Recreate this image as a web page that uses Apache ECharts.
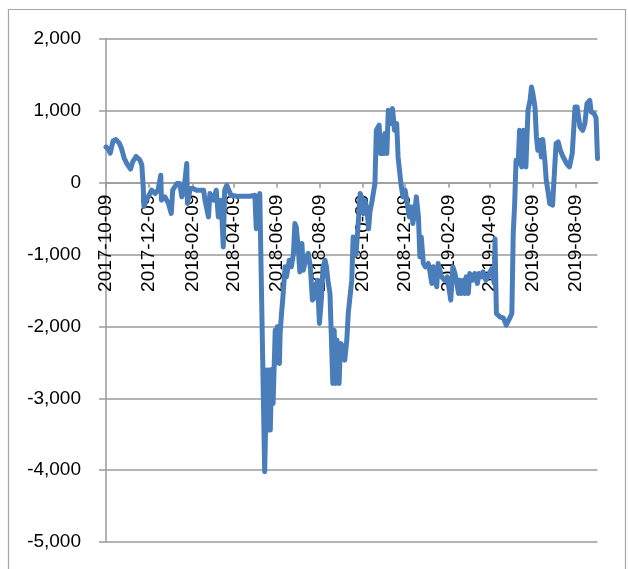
<!DOCTYPE html>
<html>
<head>
<meta charset="utf-8">
<script src="https://cdn.jsdelivr.net/npm/echarts@6/dist/echarts.min.js"></script>
<style>
  html, body { margin: 0; padding: 0; background: #ffffff; }
  #chart { width: 628px; height: 569px; }
</style>
</head>
<body>
<div id="chart"></div>
<script>
// ---- data ----
const dates = [
  '2017-10-09','2017-10-12','2017-10-15','2017-10-19','2017-10-23','2017-10-28','2017-10-31',
  '2017-11-04','2017-11-08','2017-11-13','2017-11-16','2017-11-21','2017-11-26','2017-11-29',
  '2017-12-01','2017-12-02','2017-12-05','2017-12-08','2017-12-13','2017-12-18','2017-12-22',
  '2017-12-26','2017-12-27','2018-01-01','2018-01-06','2018-01-10','2018-01-12','2018-01-18',
  '2018-01-22','2018-01-25','2018-01-28','2018-02-01','2018-02-02','2018-02-06','2018-02-10',
  '2018-02-15','2018-02-25','2018-02-27','2018-03-04','2018-03-06','2018-03-11','2018-03-15',
  '2018-03-18','2018-03-22','2018-03-25','2018-03-27','2018-03-30','2018-04-01','2018-04-05',
  '2018-04-13','2018-05-02','2018-05-09','2018-05-11','2018-05-13','2018-05-16',
  '2018-05-23','2018-05-26','2018-05-28','2018-05-29','2018-05-31','2018-06-02','2018-06-04',
  '2018-06-07','2018-06-09','2018-06-10','2018-06-13','2018-06-14','2018-06-16','2018-06-18',
  '2018-06-21','2018-06-23','2018-06-27','2018-06-30','2018-07-03','2018-07-05','2018-07-07',
  '2018-07-10','2018-07-12','2018-07-15','2018-07-17','2018-07-21','2018-07-24','2018-07-27',
  '2018-07-30','2018-08-02','2018-08-06','2018-08-09','2018-08-12','2018-08-14','2018-08-17',
  '2018-08-19','2018-08-21','2018-08-24','2018-08-28','2018-08-30','2018-09-01','2018-09-03',
  '2018-09-06','2018-09-08','2018-09-12','2018-09-14','2018-09-17','2018-09-19','2018-09-21',
  '2018-09-24','2018-09-26','2018-09-30','2018-10-03','2018-10-06','2018-10-08','2018-10-11',
  '2018-10-13','2018-10-16','2018-10-18','2018-10-20','2018-10-23','2018-10-25','2018-10-27',
  '2018-10-29','2018-11-02','2018-11-04','2018-11-08','2018-11-10','2018-11-13','2018-11-15',
  '2018-11-18','2018-11-21','2018-11-24','2018-11-27','2018-11-29','2018-12-03','2018-12-06',
  '2018-12-09','2018-12-12','2018-12-15','2018-12-18','2018-12-20','2018-12-23','2018-12-25',
  '2018-12-28','2018-12-30','2019-01-01','2019-01-04','2019-01-07','2019-01-11','2019-01-13',
  '2019-01-16','2019-01-18','2019-01-20','2019-01-23','2019-01-25','2019-01-30','2019-02-03',
  '2019-02-07','2019-02-12','2019-02-15','2019-02-18','2019-02-20','2019-02-23','2019-02-25',
  '2019-02-27','2019-03-02','2019-03-04','2019-03-06','2019-03-09','2019-03-11','2019-03-15',
  '2019-03-18','2019-03-22','2019-03-24','2019-03-28','2019-03-30','2019-04-03','2019-04-06',
  '2019-04-11','2019-04-15','2019-04-16','2019-04-18','2019-04-23','2019-04-28','2019-05-02',
  '2019-05-07','2019-05-10','2019-05-12','2019-05-14','2019-05-16','2019-05-19','2019-05-21',
  '2019-05-24','2019-05-27','2019-05-30','2019-06-02','2019-06-05','2019-06-07','2019-06-09',
  '2019-06-12','2019-06-14','2019-06-16','2019-06-19','2019-06-21','2019-06-23','2019-06-26',
  '2019-06-28','2019-07-01','2019-07-03','2019-07-07','2019-07-09','2019-07-12','2019-07-15',
  '2019-07-18','2019-07-22','2019-07-27','2019-07-31','2019-08-04','2019-08-08','2019-08-11',
  '2019-08-15','2019-08-19','2019-08-22','2019-08-25','2019-08-29','2019-08-31','2019-09-04',
  '2019-09-07','2019-09-09'
];
const values = [
  498, 470, 410, 580, 600, 550, 480,
  340, 260, 190, 290, 365, 320, 250,
  -60, -330, -250, -197, -104, -150, -104,
  104, -243, -197, -290, -428, -104, -11,
  -11, -197, -104, 267, -290, -81, -81,
  -104, -104, -243, -476, -150, -243, -104,
  -476, -243, -893, -104, -35, -58, -174,
  -188, -188, -175, -640, -600, -150,
  -4023, -2608, -3440, -2608, -3443, -2600, -3071,
  -2052, -2510, -2005, -2515, -2100, -1820, -1588,
  -1170, -1310, -1078, -1170, -985, -568, -615,
  -939, -1241, -846, -1217, -1032, -985, -1171,
  -1634, -1588, -1356, -1958, -1588, -1171, -1078,
  -1171, -1356, -1541, -2793, -2052, -2793, -2190,
  -2793, -2237, -2284, -2469, -2190, -1820, -1634,
  -1356, -754, -1000, -600, -150, -200, -430,
  -250, -400, -640, -400, -250, -243, -11,
  730, 800, 406, 406, 684, 406, 1008,
  823, 1031, 730, 823, 359, -11, -197,
  -104, -290, -476, -336, -568, -383, -197,
  -476, -1032, -754, -1124, -1171, -1124, -1217,
  -1402, -1171, -1310, -1449, -1124, -1310, -1356,
  -1310, -1634, -1171, -1263, -1356, -1541, -1356,
  -1541, -1356, -1541, -1310, -1541, -1263, -1356,
  -1263, -1402, -1263, -1310, -1241, -1356, -1310,
  -1200, -1400, -780, -1820, -1867, -1885, -1982,
  -1885, -1820, -700, -300, 313, 267, 730,
  220, 730, 220, 1008, 1147, 1333, 1241,
  1050, 637, 452, 591, 359, 600, 313,
  35, -150, -290, -313, -290, 545, 567,
  452, 359, 267, 220, 406, 1054, 1054,
  776, 730, 823, 1101, 1147, 985, 963,
  900, 336
];
const tickLabels = [
  '2017-10-09','2017-12-09','2018-02-09','2018-04-09','2018-06-09','2018-08-09',
  '2018-10-09','2018-12-09','2019-02-09','2019-04-09','2019-06-09','2019-08-09'
];
const axisStart = '2017-10-09';
const axisEnd = '2019-09-09';
const yTicks = { min: -5000, max: 2000, step: 1000 };

// ---- helpers: dates become UTC day stamps on a numeric axis ----
function ts(s) {
  const p = s.split('-').map(Number);
  return Date.UTC(p[0], p[1] - 1, p[2]);
}
function fmtDate(v) {
  const d = new Date(v);
  const mm = String(d.getUTCMonth() + 1).padStart(2, '0');
  const dd = String(d.getUTCDate()).padStart(2, '0');
  return d.getUTCFullYear() + '-' + mm + '-' + dd;
}
const seriesData = dates.map((d, i) => [ts(d), values[i]]);
const tickTs = tickLabels.map(ts);

const W = 628, H = 569;
const gridBox = { left: 106, right: 30.5, top: 39, bottom: 27 };
const gridH = H - gridBox.top - gridBox.bottom;
// the date axis crosses the value axis at 0 (like the original chart)
const zeroOffset = -gridH * (0 - yTicks.min) / (yTicks.max - yTicks.min);

const gray = '#9a9a9a';
const chart = echarts.init(document.getElementById('chart'), null, { renderer: 'canvas' });
chart.setOption({
  animation: false,
  backgroundColor: '#ffffff',
  graphic: [{
    type: 'rect',
    shape: { x: 8.5, y: 9.5, width: 617, height: 600 },
    style: { fill: 'none', stroke: '#a6a6a6', lineWidth: 1.2 },
    silent: true,
    z: -1
  }],
  grid: Object.assign({ containLabel: false, outerBoundsMode: 'none' }, gridBox),
  xAxis: {
    type: 'value',
    min: ts(axisStart),
    max: ts(axisEnd),
    position: 'bottom',
    offset: zeroOffset,
    axisLine: { show: true, onZero: false, lineStyle: { color: gray, width: 1.5 } },
    axisTick: { show: true, customValues: tickTs, length: 5, inside: false,
                lineStyle: { color: gray, width: 1.5 } },
    axisLabel: {
      customValues: tickTs,
      rotate: 90,
      margin: 12,
      color: '#000000',
      fontSize: 19,
      fontFamily: 'Liberation Sans',
      hideOverlap: false,
      formatter: (v) => fmtDate(v)
    },
    splitLine: { show: false },
    z: 1
  },
  yAxis: {
    type: 'value',
    min: yTicks.min,
    max: yTicks.max,
    interval: yTicks.step,
    axisLine: { show: true, lineStyle: { color: gray, width: 1.5 } },
    axisTick: { show: true, length: 7, lineStyle: { color: gray, width: 1.5 } },
    axisLabel: {
      margin: 25,
      color: '#000000',
      fontSize: 19,
      fontFamily: 'Liberation Sans',
      formatter: (v) => v.toLocaleString('en-US')
    },
    splitLine: { show: true, lineStyle: { color: gray, width: 1.5 } }
  },
  series: [{
    type: 'line',
    data: seriesData,
    showSymbol: false,
    symbol: 'none',
    lineStyle: { color: '#4a7ebb', width: 5, join: 'round', cap: 'round' },
    z: 3
  }]
});
</script>
</body>
</html>
